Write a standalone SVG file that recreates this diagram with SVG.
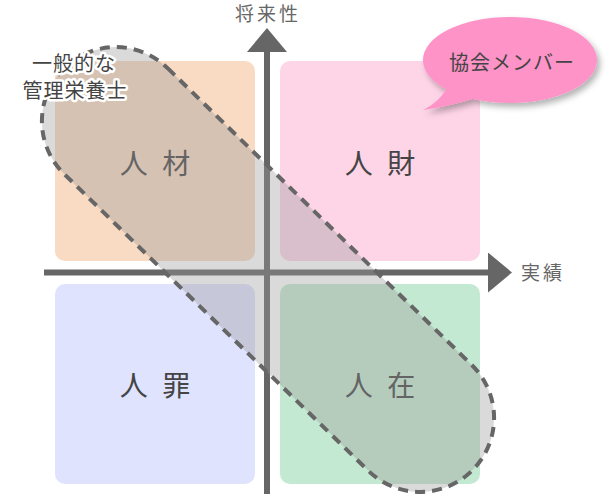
<svg xmlns="http://www.w3.org/2000/svg" width="612" height="495" viewBox="0 0 612 495">
<style>
.q{stroke:none}
.ql{font-family:"Noto Sans CJK JP","Noto Sans",sans-serif;font-size:28px;fill:#444;text-anchor:middle;letter-spacing:4px}
.ax{stroke:#666;stroke-width:6;fill:none}
.al{font-family:"Noto Sans CJK JP","Noto Sans",sans-serif;font-size:19px;fill:#666;letter-spacing:3px}
.lab{font-family:"Noto Sans CJK JP","Noto Sans",sans-serif;font-size:20px;fill:#444;text-anchor:middle;letter-spacing:1px}
.halo{stroke:#fff;stroke-width:5;stroke-linejoin:round;paint-order:stroke}
</style>
<defs>
<marker id="ah" viewBox="0 0 24 40" refX="0" refY="20" markerWidth="24" markerHeight="40" markerUnits="userSpaceOnUse" orient="auto">
<path d="M0,0 L24,20 L0,40 Z" fill="#666"/>
</marker>
<filter id="sh" x="-20%" y="-30%" width="150%" height="170%">
<feDropShadow dx="3" dy="4" stdDeviation="3" flood-color="#000" flood-opacity="0.3"/>
</filter>
</defs>
<rect width="612" height="495" fill="#fff"/>
<g id="q-jinzai-material">
<rect class="q" x="55" y="61" width="200" height="200" rx="10" fill="#F9DAC2"/>
<text class="ql" x="157" y="174">人 材</text>
</g>
<g id="q-jinzai-treasure">
<rect class="q" x="280" y="61" width="200" height="200" rx="10" fill="#FED5E7"/>
<text class="ql" x="382" y="174">人 財</text>
</g>
<g id="q-jinzai-sin">
<rect class="q" x="55" y="284" width="200" height="200" rx="10" fill="#DFE3FD"/>
<text class="ql" x="157" y="396">人 罪</text>
</g>
<g id="q-jinzai-exist">
<rect class="q" x="280" y="284" width="200" height="200" rx="10" fill="#C4E9D2"/>
<text class="ql" x="382" y="396">人 在</text>
</g>
<g id="connectors">
<line class="ax" x1="267" y1="494" x2="267" y2="52" marker-end="url(#ah)"/>
<line class="ax" x1="44" y1="272.5" x2="488" y2="272.5" marker-end="url(#ah)"/>
</g>
<g id="axis-labels">
<text class="al" x="268" y="21" text-anchor="middle">将来性</text>
<text class="al" x="521" y="280">実績</text>
</g>
<g id="general-dietitian">
<rect x="-286.5" y="-74" width="573" height="148" rx="74" transform="translate(268 269.5) rotate(44.3)" fill="#9B9B9B" fill-opacity="0.37" stroke="#666" stroke-width="4" stroke-dasharray="10 7"/>
<text class="lab halo" x="74" y="71">一般的な</text>
<text class="lab halo" x="75" y="98">管理栄養士</text>
</g>
<g id="association-members">
<g filter="url(#sh)" fill="#FD93C6">
<ellipse cx="510" cy="60" rx="87" ry="43"/>
<path d="M448,86 Q440,102 423,110 Q450,106 476,98 Z"/>
</g>
<text class="lab" x="512" y="70">協会メンバー</text>
</g>
</svg>
